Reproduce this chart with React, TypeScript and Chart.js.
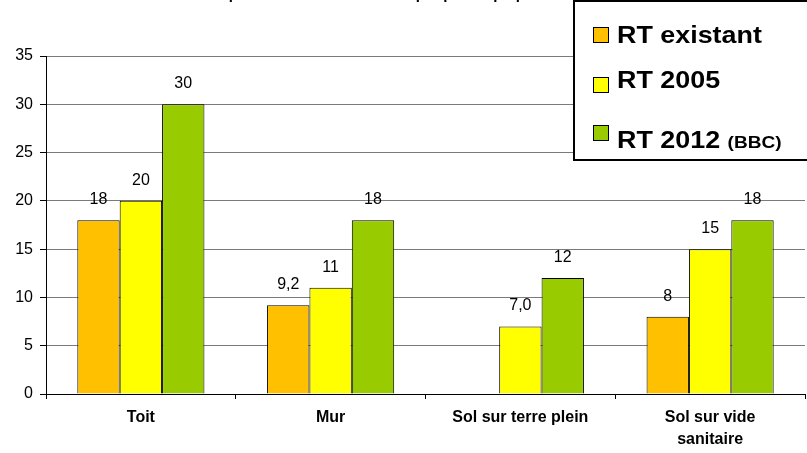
import React, { useEffect, useRef } from "react";
import { Chart, registerables } from "chart.js";

Chart.register(...registerables);

const categories: (string | string[])[] = ["Toit", "Mur", "Sol sur terre plein", ["Sol sur vide", "sanitaire"]];
const seriesNames = ["RT existant", "RT 2005", "RT 2012 (BBC)"];
const rtExistant: (number | null)[] = [18, 9.2, null, 8];
const rt2005: (number | null)[] = [20, 11, 7.0, 15];
const rt2012: (number | null)[] = [30, 18, 12, 18];
const rtExistantLabels = ["18", "9,2", "", "8"];
const rt2005Labels = ["20", "11", "7,0", "15"];
const rt2012Labels = ["30", "18", "12", "18"];
const yTicks = [0, 5, 10, 15, 20, 25, 30, 35];
const titleText = "Epaisseurs d'isolant en cm par paroi opaque";

const FONT = "'Liberation Sans', Arial, Helvetica, sans-serif";
const colors = ["#FFC000", "#FFFF00", "#99CC00"];

const valueLabelPlugin = {
  id: "valueLabels",
  afterDatasetsDraw(chart: any) {
    const ctx = chart.ctx;
    const labelSets = [rtExistantLabels, rt2005Labels, rt2012Labels];
    ctx.save();
    ctx.font = `16px ${FONT}`;
    ctx.fillStyle = "#000";
    ctx.textAlign = "center";
    ctx.textBaseline = "alphabetic";
    chart.data.datasets.forEach((ds: any, di: number) => {
      const meta = chart.getDatasetMeta(di);
      meta.data.forEach((bar: any, i: number) => {
        const v = ds.data[i];
        if (v === null || v === undefined) return;
        ctx.fillText(labelSets[di][i], bar.x, bar.y - 16);
      });
    });
    ctx.restore();
  },
};

const legendTitlePlugin = {
  id: "customLegend",
  afterDraw(chart: any) {
    const ctx = chart.ctx;
    ctx.save();
    // cut-off title at top
    ctx.font = `bold 15px ${FONT}`;
    ctx.fillStyle = "#000";
    ctx.textAlign = "center";
    ctx.textBaseline = "alphabetic";
    ctx.fillText(titleText, 378, -1);

    // legend box
    ctx.fillStyle = "#fff";
    ctx.fillRect(574, 1, 240, 159);
    ctx.strokeStyle = "#000";
    ctx.lineWidth = 2;
    ctx.strokeRect(574, 1, 240, 159);

    const rows = [
      { sq: 27, base: 43 },
      { sq: 77, base: 88 },
      { sq: 125, base: 148 },
    ];
    chart.data.datasets.forEach((ds: any, i: number) => {
      const r = rows[i];
      ctx.fillStyle = ds.backgroundColor;
      ctx.fillRect(593.5, r.sq + 0.5, 15, 15);
      ctx.strokeStyle = "#000";
      ctx.lineWidth = 1;
      ctx.strokeRect(593.5, r.sq + 0.5, 15, 15);
      const label: string = ds.label;
      const idx = label.indexOf("(");
      const main = idx >= 0 ? label.slice(0, idx) : label;
      const extra = idx >= 0 ? label.slice(idx) : "";
      ctx.save();
      ctx.translate(617, r.base);
      ctx.scale(1.12, 1);
      ctx.fillStyle = "#000";
      ctx.textAlign = "left";
      ctx.font = `bold 24px ${FONT}`;
      ctx.fillText(main, 0, 0);
      const w = ctx.measureText(main).width;
      if (extra) {
        ctx.font = `bold 17px ${FONT}`;
        ctx.fillText(extra, w, 0);
      }
      ctx.restore();
    });
    ctx.restore();
  },
};

export default function App() {
  const ref = useRef<HTMLCanvasElement | null>(null);
  useEffect(() => {
    if (!ref.current) return;
    const chart = new Chart(ref.current, {
      type: "bar",
      data: {
        labels: categories as any,
        datasets: [
          { label: seriesNames[0], data: rtExistant, backgroundColor: colors[0] },
          { label: seriesNames[1], data: rt2005, backgroundColor: colors[1] },
          { label: seriesNames[2], data: rt2012, backgroundColor: colors[2] },
        ].map((d) => ({
          ...d,
          borderColor: "#000",
          borderWidth: 1,
          categoryPercentage: 0.67,
          barPercentage: 1,
        })) as any,
      },
      options: {
        responsive: false,
        animation: false,
        devicePixelRatio: 1,
        layout: { padding: { top: 56, right: 2, left: 0, bottom: 0 } },
        plugins: {
          legend: { display: false },
          title: { display: false },
          tooltip: { enabled: false },
        },
        scales: {
          x: {
            offset: true,
            afterFit: (s: any) => {
              s.height = 59;
            },
            grid: {
              offset: true,
              drawOnChartArea: true,
              color: (c: any) => (c.index === 4 ? "#808080" : "rgba(0,0,0,0)"),
              tickColor: "#000",
              tickLength: 5,
            },
            border: { color: "#000", width: 1 },
            ticks: {
              color: "#000",
              font: { family: FONT, size: 16, weight: "bold", lineHeight: 1.4 } as any,
              padding: 7,
              maxRotation: 0,
              autoSkip: false,
            },
          },
          y: {
            min: 0,
            max: 35,
            afterFit: (s: any) => {
              s.width = 46;
            },
            afterBuildTicks: (s: any) => {
              s.ticks = yTicks.map((v) => ({ value: v }));
            },
            grid: {
              color: "#7a7a7a",
              tickColor: "#000",
              tickLength: 6,
            },
            border: { color: "#000", width: 1 },
            ticks: {
              color: "#000",
              font: { family: FONT, size: 16 },
              padding: 7,
            },
          },
        },
      },
      plugins: [valueLabelPlugin, legendTitlePlugin],
    });
    return () => chart.destroy();
  }, []);

  return (
    <div style={{ position: "absolute", left: 0, top: 0, width: 807, height: 453, background: "#fff" }}>
      <canvas ref={ref} width={807} height={453} style={{ display: "block" }} />
    </div>
  );
}
